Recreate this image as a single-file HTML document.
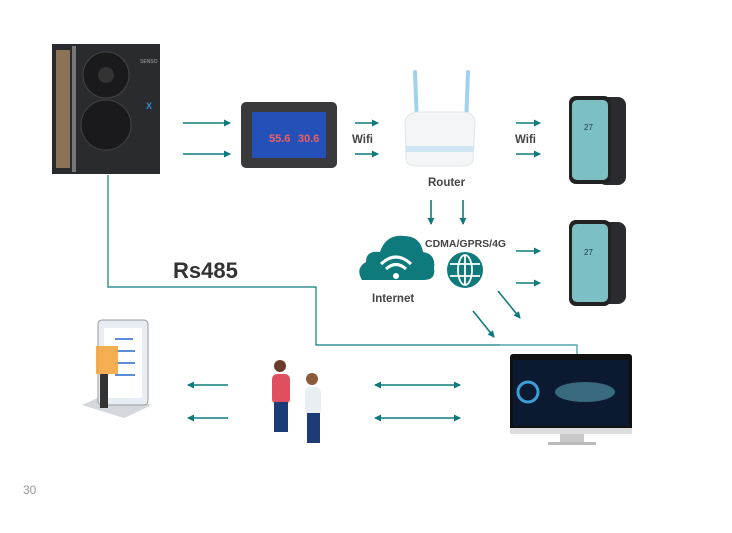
<!DOCTYPE html><html><head><style>body{margin:0;background:#fff;width:732px;height:533px;overflow:hidden}svg{display:block}text{font-family:"Liberation Sans",sans-serif}</style></head><body>
<svg width="732" height="533" viewBox="0 0 732 533">
<defs><marker id="a" markerWidth="8" markerHeight="8" refX="6" refY="4" orient="auto-start-reverse" markerUnits="userSpaceOnUse"><path d="M0,0.5 L7,4 L0,7.5z" fill="#0e7a7c"/></marker></defs>
<g stroke="#0e7a7c" stroke-width="1.6" fill="none" marker-end="url(#a)">
<line x1="183" y1="123" x2="230" y2="123"/><line x1="183" y1="154" x2="230" y2="154"/>
<line x1="355" y1="123" x2="378" y2="123"/><line x1="355" y1="154" x2="378" y2="154"/>
<line x1="516" y1="123" x2="540" y2="123"/><line x1="516" y1="154" x2="540" y2="154"/>
<line x1="431" y1="200" x2="431" y2="224"/><line x1="463" y1="200" x2="463" y2="224"/>
<line x1="516" y1="251" x2="540" y2="251"/><line x1="516" y1="283" x2="540" y2="283"/>
<line x1="498" y1="291" x2="520" y2="318"/><line x1="473" y1="311" x2="494" y2="337"/>
<line x1="228" y1="385" x2="188" y2="385"/><line x1="228" y1="418" x2="188" y2="418"/>
<line x1="375" y1="385" x2="460" y2="385" marker-start="url(#a)"/><line x1="375" y1="418" x2="460" y2="418" marker-start="url(#a)"/>
</g>
<polyline points="108,175 108,287 316,287 316,345 577,345 577,355" stroke="#0e7a7c" stroke-width="1.2" fill="none"/>
<polyline points="500,345 577,345 577,355" stroke="#5aa8b0" stroke-width="1.2" fill="none"/>
<!-- heat pump -->
<rect x="52" y="44" width="108" height="130" fill="#2a2b2e"/><rect x="56" y="50" width="14" height="118" fill="#8a7356"/><rect x="72" y="46" width="4" height="126" fill="#777"/>
<circle cx="106" cy="75" r="23" fill="#1a1a1c" stroke="#444"/><circle cx="106" cy="75" r="8" fill="#333"/><circle cx="106" cy="125" r="25" fill="#1a1a1c" stroke="#444"/><text x="140" y="63" font-size="5" fill="#aaa">SENSO</text><text x="146" y="109" font-size="9" fill="#2a8fd0" font-weight="bold">X</text>
<!-- display -->
<rect x="241" y="102" width="96" height="66" rx="5" fill="#3a3a3c"/><rect x="252" y="112" width="74" height="46" fill="#2450b8"/><text x="269" y="142" font-size="11" fill="#f06060" font-weight="bold">55.6</text><text x="298" y="142" font-size="11" fill="#f06060" font-weight="bold">30.6</text>
<text x="352" y="143" font-size="11.5" font-weight="bold" fill="#444">Wifi</text><text x="515" y="143" font-size="11.5" font-weight="bold" fill="#444">Wifi</text>
<!-- router -->
<line x1="415" y1="72" x2="417" y2="125" stroke="#9fd2ef" stroke-width="4" stroke-linecap="round"/><line x1="468" y1="72" x2="466" y2="125" stroke="#9fd2ef" stroke-width="4" stroke-linecap="round"/>
<path d="M405,124 Q405,112 420,112 L462,112 Q475,112 475,124 L473,160 Q472,166 460,166 L418,166 Q407,166 406,160z" fill="#f3f5f7" stroke="#e2e6ea"/><rect x="406" y="146" width="68" height="6" fill="#cde4f2"/>
<text x="428" y="186" font-size="11.5" font-weight="bold" fill="#444">Router</text>
<!-- phones -->
<g><rect x="598" y="97" width="28" height="88" rx="8" fill="#2a2b2e"/><rect x="569" y="96" width="42" height="88" rx="7" fill="#222"/><rect x="572" y="100" width="36" height="80" rx="5" fill="#7cc0c6"/><text x="584" y="130" font-size="8" fill="#234">27</text></g>
<g><rect x="598" y="222" width="28" height="82" rx="8" fill="#2a2b2e"/><rect x="569" y="220" width="42" height="86" rx="7" fill="#222"/><rect x="572" y="224" width="36" height="78" rx="5" fill="#7cc0c6"/><text x="584" y="255" font-size="8" fill="#234">27</text></g>
<!-- cloud -->
<path d="M362,280 Q355,268 366,262 Q366,250 380,252 Q386,234 404,236 Q420,236 423,252 Q436,254 434,268 Q436,280 424,280z" fill="#0e7a7c"/>
<g stroke="#fff" stroke-width="3" fill="none"><path d="M381,264 Q396,250 411,264"/><path d="M386,269 Q396,260 406,269"/></g><circle cx="396" cy="276" r="3" fill="#fff"/>
<text x="372" y="302" font-size="11.5" font-weight="bold" fill="#444">Internet</text>
<text x="425" y="247" font-size="10.5" font-weight="bold" fill="#444">CDMA/GPRS/4G</text>
<circle cx="465" cy="270" r="18" fill="#0e7a7c"/><g stroke="#fff" stroke-width="1.8" fill="none"><ellipse cx="465" cy="270" rx="7" ry="15"/><line x1="465" y1="255" x2="465" y2="285"/><line x1="450" y1="264" x2="480" y2="264"/><line x1="450" y1="276" x2="480" y2="276"/></g>
<text x="173" y="278" font-size="22" font-weight="bold" fill="#333">Rs485</text>
<!-- monitor -->
<rect x="510" y="354" width="122" height="78" rx="3" fill="#111"/><rect x="513" y="360" width="116" height="66" fill="#0b1a30"/><ellipse cx="585" cy="392" rx="30" ry="10" fill="#3a6a80"/><circle cx="528" cy="392" r="10" fill="none" stroke="#3a9fd8" stroke-width="3"/><rect x="510" y="428" width="122" height="6" fill="#ddd"/><rect x="560" y="434" width="24" height="8" fill="#c8c8c8"/><rect x="548" y="442" width="48" height="3" fill="#bbb"/>
<!-- people -->
<circle cx="280" cy="366" r="6" fill="#6b3b2a"/><rect x="272" y="374" width="18" height="30" rx="5" fill="#e04f5f"/><rect x="274" y="402" width="14" height="30" fill="#1c3c78"/>
<circle cx="312" cy="379" r="6" fill="#8a5a3a"/><rect x="305" y="387" width="16" height="28" rx="5" fill="#e8eef2"/><rect x="307" y="413" width="13" height="30" fill="#1c3c78"/>
<!-- tablet -->
<polygon points="82,405 110,392 152,405 124,418" fill="#d4d8dc"/><rect x="98" y="320" width="50" height="85" rx="4" fill="#e8edf3" stroke="#999"/><rect x="104" y="328" width="38" height="70" fill="#fff"/><g fill="#5a8fd8"><rect x="115" y="338" width="18" height="2"/><rect x="115" y="350" width="20" height="2"/><rect x="115" y="362" width="20" height="2"/><rect x="115" y="374" width="20" height="2"/></g><rect x="96" y="346" width="22" height="28" fill="#f3a640" opacity=".9"/><rect x="100" y="374" width="8" height="34" fill="#333"/>
<text x="23" y="494" font-size="12" fill="#999">30</text>
</svg></body></html>
